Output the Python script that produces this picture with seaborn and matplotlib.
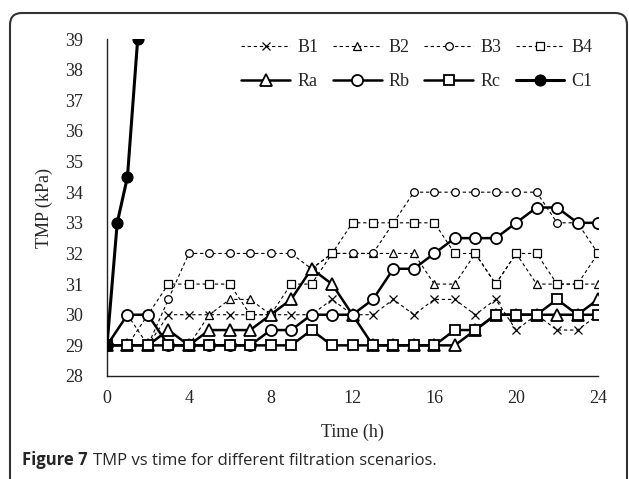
import matplotlib
matplotlib.use("Agg")
import matplotlib.pyplot as plt
from matplotlib.patches import FancyBboxPatch
from matplotlib.transforms import IdentityTransform
import seaborn as sns
import numpy as np
import pandas as pd

# time (h) and TMP (kPa)
hours = list(range(25))
b1 = [29, 30, 29, 30, 30, 30, 30, 30, 30, 30, 30, 30.5, 30, 30, 30.5, 30, 30.5, 30.5, 30, 30.5, 29.5, 30, 29.5, 29.5, 30]
b2 = [29, 29, 29, 29.5, 29, 30, 30.5, 30.5, 30, 30.5, 31.5, 32, 32, 32, 32, 32, 31, 31, 32, 31, 32, 31, 31, 31, 31]
b3 = [29, 29, 29, 30.5, 32, 32, 32, 32, 32, 32, 31.5, 32, 32, 32, 33, 34, 34, 34, 34, 34, 34, 34, 33, 33, 32]
b4 = [29, 29, 30, 31, 31, 31, 31, 30, 30, 31, 31, 32, 33, 33, 33, 33, 33, 32, 32, 31, 32, 32, 31, 31, 32]
ra = [29, 29, 29, 29.5, 29, 29.5, 29.5, 29.5, 30, 30.5, 31.5, 31, 30, 29, 29, 29, 29, 29, 29.5, 30, 30, 30, 30, 30, 30.5]
rb = [29, 30, 30, 29, 29, 29, 29, 29, 29.5, 29.5, 30, 30, 30, 30.5, 31.5, 31.5, 32, 32.5, 32.5, 32.5, 33, 33.5, 33.5, 33, 33]
rc = [29, 29, 29, 29, 29, 29, 29, 29, 29, 29, 29.5, 29, 29, 29, 29, 29, 29, 29.5, 29.5, 30, 30, 30, 30.5, 30, 30]
c1_hours = [0, 0.5, 1, 1.5]
c1 = [29, 33, 34.5, 39]

sns.set_style("white")
plt.rcParams["font.family"] = ["Liberation Serif", "DejaVu Serif"]

fig = plt.figure(figsize=(6.29, 4.79), dpi=100)
ax = fig.add_axes([107/629, 103/479, 491/629, 337/479])

dash = (0, (3, 2.5))
series_b = [("B1", b1, "x"), ("B2", b2, "^"), ("B3", b3, "o"), ("B4", b4, "s")]
for name, vals, mk in series_b:
    sns.lineplot(x=hours, y=vals, ax=ax, label=name, color="black", linestyle=dash,
                 linewidth=0.8, marker=mk, markersize=5.5 if mk != "x" else 6,
                 markerfacecolor="white", markeredgecolor="black", markeredgewidth=0.9,
                 sort=False, zorder=2)

series_r = [("Ra", ra, "^"), ("Rb", rb, "o"), ("Rc", rc, "s")]
for name, vals, mk in series_r:
    sns.lineplot(x=hours, y=vals, ax=ax, label=name, color="black", linestyle="-",
                 linewidth=1.8, marker=mk, markersize=8 if mk != "s" else 7,
                 markerfacecolor="white", markeredgecolor="black", markeredgewidth=1.3,
                 sort=False, zorder=3)

sns.lineplot(x=c1_hours, y=c1, ax=ax, label="C1", color="black", linestyle="-",
             linewidth=2.2, marker="o", markersize=8, markerfacecolor="black",
             markeredgecolor="black", sort=False, zorder=4)

ax.set_xlim(0, 24)
ax.set_ylim(28, 39)
ax.set_xticks(range(0, 25, 4))
ax.set_yticks(range(28, 40))
ax.tick_params(length=0, labelsize=13)
ax.tick_params(axis="y", pad=17)
ax.tick_params(axis="x", pad=10)
for s in ["top", "right"]:
    ax.spines[s].set_visible(False)
for s in ["left", "bottom"]:
    ax.spines[s].set_color("#222222")
    ax.spines[s].set_linewidth(1.0)
ax.set_xlabel("Time (h)", fontsize=13, labelpad=12)
ax.set_ylabel("TMP (kPa)", fontsize=13, labelpad=9)

handles, labels = ax.get_legend_handles_labels()
order = ["B1", "Ra", "B2", "Rb", "B3", "Rc", "B4", "C1"]
hmap = dict(zip(labels, handles))
ax.legend([hmap[k] for k in order], order, ncol=4, frameon=False, fontsize=13,
          loc="upper right", bbox_to_anchor=(600/629, 447/479),
          bbox_transform=fig.transFigure, handlelength=2.7, handletextpad=0.4,
          columnspacing=0.8, labelspacing=0.95, borderaxespad=0)

# caption: bold label followed by the normal text
cap_bold = fig.text(22/629, 14/479, "Figure 7", fontsize=12, family="Open Sans",
                    fontweight="bold", va="baseline")
fig.canvas.draw()
bb = cap_bold.get_window_extent(fig.canvas.get_renderer())
fig.text((bb.x1 + 5) / 629, 14/479, "TMP vs time for different filtration scenarios.",
         fontsize=12, family="Open Sans", va="baseline")

# rounded frame around the panel
frame = FancyBboxPatch((10, -30), 617, 496, boxstyle="round,pad=0,rounding_size=12",
                       transform=IdentityTransform(), facecolor="none",
                       edgecolor="#333333", linewidth=1.5)
fig.patches.append(frame)

fig.savefig("out.png", dpi=100)
